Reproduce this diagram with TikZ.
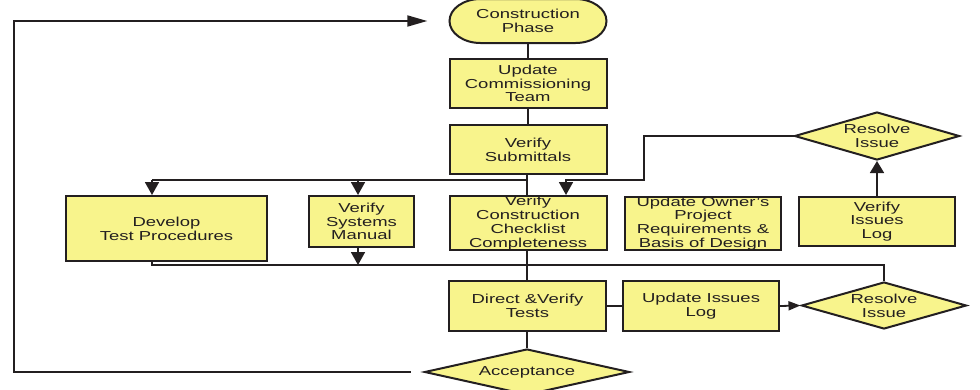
\documentclass[tikz,border=0pt]{standalone}
\usepackage{fontspec}
\setmainfont{Liberation Sans}[FakeStretch=1.42]
\usetikzlibrary{arrows.meta,shapes.geometric,backgrounds}
\definecolor{boxfill}{RGB}{248,244,140}
\definecolor{ink}{RGB}{35,31,32}

\begin{document}
\begin{tikzpicture}[x=1pt,y=-1pt,
  every node/.style={font=\fontsize{13}{13.8}\selectfont, align=center, text=ink},
  box/.style={draw=ink, line width=2pt, fill=boxfill, rectangle, inner sep=0pt},
  outline/.style={draw=ink, line width=2pt, fill=boxfill},
  decision/.style={draw=ink, line width=2pt, fill=boxfill, diamond, inner sep=0pt},
  link/.style={draw=ink, line width=1.8pt},
  tipdown/.style={link, -{Triangle[width=14pt,length=13pt]}},
  tipup/.style={link, -{Triangle[width=14pt,length=12pt]}},
  tipright/.style={link, -{Triangle[width=11pt,length=20pt]}},
  tipsmall/.style={link, -{Triangle[width=9pt,length=12pt]}},
]
\useasboundingbox (0,0) rectangle (980,389);

% main column
\node[inner sep=0pt, minimum width=157pt, minimum height=44pt] (cp) at (528,21) {Construction\\Phase};
\node[box, minimum width=157pt, minimum height=49pt] (uct) at (528,83.5) {Update\\Commissioning\\Team};
\node[box, minimum width=157pt, minimum height=49pt] (vs) at (528,149.5) {Verify\\Submittals};
\node[box, minimum width=157pt, minimum height=54pt] (vccc) at (528,223) {Verify\\Construction\\Checklist\\Completeness};
\node[box, minimum width=157pt, minimum height=50pt] (dvt) at (527.5,306) {Direct \&Verify\\Tests};
\node[decision, minimum width=205pt, minimum height=46pt, aspect=4.4] (acc) at (527,372) {Acceptance};

% terminal outline with elliptic ends, behind its text
\begin{pgfonlayer}{background}
  \draw[outline] (480.5,-1) -- (575.5,-1)
    arc[start angle=-90, end angle=90, x radius=31, y radius=22]
    -- (480.5,43)
    arc[start angle=90, end angle=270, x radius=31, y radius=22] -- cycle;
\end{pgfonlayer}

% side boxes
\node[box, minimum width=201pt, minimum height=65pt] (dtp) at (166.5,228.5) {Develop\\Test Procedures};
\node[box, minimum width=105pt, minimum height=51pt] (vsm) at (361.5,221.5) {Verify\\Systems\\Manual};
\node[box, minimum width=156pt, minimum height=53pt] (uopr) at (703,223.5) {Update Owner’s\\Project\\Requirements \&\\Basis of Design};
\node[box, minimum width=156pt, minimum height=49pt] (vil) at (877,221.5) {Verify\\Issues\\Log};
\node[decision, minimum width=165pt, minimum height=48pt, aspect=3.4] (ri1) at (877,136) {Resolve\\Issue};
\node[box, minimum width=156pt, minimum height=50pt] (uil) at (701,306) {Update Issues\\Log};
\node[decision, minimum width=165pt, minimum height=47pt, aspect=3.4] (ri2) at (884,305.5) {Resolve\\Issue};

% junction points
\coordinate (j1) at (527,180);
\coordinate (a1) at (152,180);
\coordinate (a2) at (358,180);
\coordinate (k1) at (644,180);
\coordinate (k2) at (566,180);
\coordinate (b1) at (152,265);
\coordinate (b2) at (884,265);
\coordinate (b3) at (358,265);
\coordinate (r1) at (14,372);
\coordinate (r2) at (14,21);

% main column links
\draw[link] (cp.south) -- (uct.north);
\draw[link] (uct.south) -- (vs.north);
\draw[link] (vs.south -| j1) -- (vccc.north -| j1);
\draw[link] (vccc.south -| j1) -- (dvt.north -| j1);
\draw[link] (dvt.south -| j1) -- (acc.north);

% branch to the left
\draw[link] (j1) -- (a1);
\draw[tipdown] (a1) -- (a1 |- dtp.north);
\draw[tipdown] (a2) -- (a2 |- vsm.north);

% issue loop from the upper decision
\draw[tipdown] (ri1.west) -| (k1) -- (k2) -- (k2 |- vccc.north);
\draw[tipup] (vil.north) -- (ri1.south);

% lower bus
\draw[link] (dtp.south -| b1) -- (b1) -- (b2) -- (ri2.north);
\draw[tipdown] (vsm.south -| b3) -- (b3);

% test row
\draw[link] (dvt.east) -- (uil.west);
\draw[tipsmall] (uil.east) -- (ri2.west);

% return loop
\draw[tipright, shorten <=13pt, shorten >=22pt] (acc.west) -- (r1) -- (r2) -- (cp.west);
\end{tikzpicture}
\end{document}
